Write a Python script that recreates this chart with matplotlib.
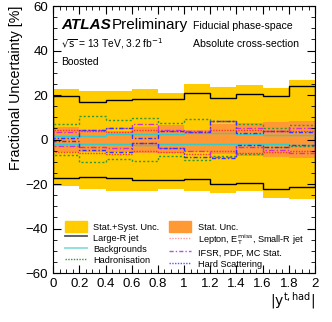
import numpy as np
import matplotlib.pyplot as plt
from matplotlib.patches import Patch
from matplotlib.lines import Line2D
from matplotlib.ticker import MultipleLocator

plt.rcParams['font.family'] = ['Liberation Sans', 'DejaVu Sans']

edges = np.linspace(0, 2, 11)

# uncertainties in %, per bin of |y^{t,had}|
total_up = [22.6, 22.0, 22.0, 22.9, 21.0, 24.8, 23.8, 24.4, 23.1, 27.0]
total_dn = [-20.7, -22.3, -22.9, -23.3, -22.1, -23.3, -23.8, -23.3, -26.3, -26.6]
stat_up = [5.5, 4.5, 4.0, 5.5, 6.5, 4.5, 7.0, 7.5, 8.0, 8.5]
stat_dn = [-5.5, -5.5, -5.5, -6.0, -6.0, -5.5, -6.5, -7.5, -8.0, -8.5]
largeR_up = [19.4, 17.1, 18.0, 18.2, 18.2, 21.0, 18.5, 20.4, 19.4, 23.9]
largeR_dn = [-17.3, -17.0, -17.4, -18.3, -18.0, -17.7, -19.8, -19.5, -22.1, -21.2]
bkg_up = [1.8, 1.8, 2.6, 2.5, 2.3, 2.8, 3.0, 2.5, 2.0, 2.2]
bkg_dn = [-2.0, -2.0, -2.2, -2.4, -2.2, -2.0, -1.8, -2.0, -2.0, -2.3]
had_up = [7.1, 10.8, 8.6, 9.8, 7.5, 9.3, 8.3, 7.1, 5.3, 6.5]
had_dn = [-6.8, -10.2, -8.7, -9.5, -7.2, -9.0, -7.5, -6.5, -3.5, -3.0]
lep_up = [4.5, 3.8, 3.5, 4.2, 3.8, 3.5, 4.5, 4.5, 4.0, 4.0]
lep_dn = [-5.5, -6.0, -6.5, -5.0, -5.5, -6.5, -5.0, -6.0, -5.5, -5.0]
ifsr_up = [3.5, 4.5, 5.0, 7.0, 4.5, 4.0, 8.5, 5.0, 4.0, 5.0]
ifsr_dn = [-3.0, -3.5, -4.0, -1.5, -4.0, -5.0, -8.0, -3.5, -4.5, -6.0]
hs_up = [0.5, 4.5, 5.0, 0.5, 4.0, 3.5, 8.5, 3.0, 4.0, 3.5]
hs_dn = [-0.5, -4.5, -5.5, -1.5, -4.0, -8.0, -8.5, -2.5, -3.5, -2.5]

fig = plt.figure(figsize=(3.32, 3.22), dpi=100)
ax = fig.add_axes([0.160, 0.152, 0.789, 0.829])

c_tot = '#ffcc00'
c_stat = '#ff9933'
ax.stairs(total_up, edges, baseline=total_dn, fill=True, color=c_tot, lw=0)
ax.stairs(stat_up, edges, baseline=stat_dn, fill=True, color=c_stat, lw=0)

styles = [
    (largeR_up, largeR_dn, 'black', '-', 1.0),
    (bkg_up, bkg_dn, '#33cccc', '-', 1.0),
    (had_up, had_dn, '#339933', (0, (1.5, 1.5)), 1.0),
    (lep_up, lep_dn, '#ff3333', (0, (1, 1)), 1.0),
    (ifsr_up, ifsr_dn, '#cc33cc', (0, (4, 1.5, 1, 1.5)), 1.0),
    (hs_up, hs_dn, '#3333ff', (0, (3, 1.5, 1, 1.5)), 1.0),
]
for up, dn, c, ls, lw in styles:
    ax.stairs(up, edges, color=c, ls=ls, lw=lw)
    ax.stairs(dn, edges, color=c, ls=ls, lw=lw)

ax.set_xlim(0, 2)
ax.set_ylim(-60, 60)
ax.xaxis.set_major_locator(MultipleLocator(0.2))
ax.xaxis.set_minor_locator(MultipleLocator(0.05))
ax.yaxis.set_major_locator(MultipleLocator(20))
ax.yaxis.set_minor_locator(MultipleLocator(5))
ax.tick_params(which='both', direction='in', top=True, right=True, labelsize=9.5)
ax.tick_params(which='major', length=6)
ax.tick_params(which='minor', length=3)
ax.xaxis.set_major_formatter(plt.FuncFormatter(lambda v, p: '%g' % v))
ax.yaxis.set_major_formatter(plt.FuncFormatter(lambda v, p: ('%g' % v).replace('-', '\u2212')))

ax.set_ylabel('Fractional Uncertainty [%]', fontsize=10.3, loc='top', labelpad=2)
ax.set_xlabel(r'$|\mathrm{y}^{\mathrm{t,had}}|$', fontsize=10, loc='right', labelpad=0)

ax.text(0.03, 0.915, 'ATLAS', transform=ax.transAxes, fontsize=11,
        fontweight='bold', style='italic')
ax.text(0.225, 0.915, 'Preliminary', transform=ax.transAxes, fontsize=11)
ax.text(0.03, 0.845, r'$\sqrt{\mathrm{s}}$ = 13 TeV, 3.2 fb$^{-1}$', transform=ax.transAxes, fontsize=7.4)
ax.text(0.03, 0.78, 'Boosted', transform=ax.transAxes, fontsize=7.4)
ax.text(0.535, 0.915, 'Fiducial phase-space', transform=ax.transAxes, fontsize=7.6)
ax.text(0.535, 0.845, 'Absolute cross-section', transform=ax.transAxes, fontsize=7.6)

handles = [
    Patch(color=c_tot, label='Stat.+Syst. Unc.'),
    Line2D([], [], color='#555555', lw=1.3, label='Large-R jet'),
    Line2D([], [], color='#88dddd', lw=1.3, label='Backgrounds'),
    Line2D([], [], color='#339933', ls=(0, (1, 1)), lw=1, label='Hadronisation'),
    Patch(color=c_stat, label='Stat. Unc.'),
    Line2D([], [], color='#ff9999', ls=(0, (1, 1)), lw=1,
           label=r'Lepton, E$_{\mathrm{T}}^{\mathrm{miss}}$, Small-R jet'),
    Line2D([], [], color='#bb55cc', ls=(0, (3, 1.5, 1, 1.5)), lw=1, label='IFSR, PDF, MC Stat.'),
    Line2D([], [], color='#5555ff', ls=(0, (1, 1)), lw=1, label='Hard Scattering'),
]
ax.legend(handles=handles, ncol=2, loc='lower left', bbox_to_anchor=(0.03, 0.0),
          frameon=False, fontsize=6.6, handlelength=2.4, handleheight=1.5,
          handletextpad=0.7, columnspacing=1.1, labelspacing=0.0, borderaxespad=0)

fig.savefig('out.png', dpi=100)
